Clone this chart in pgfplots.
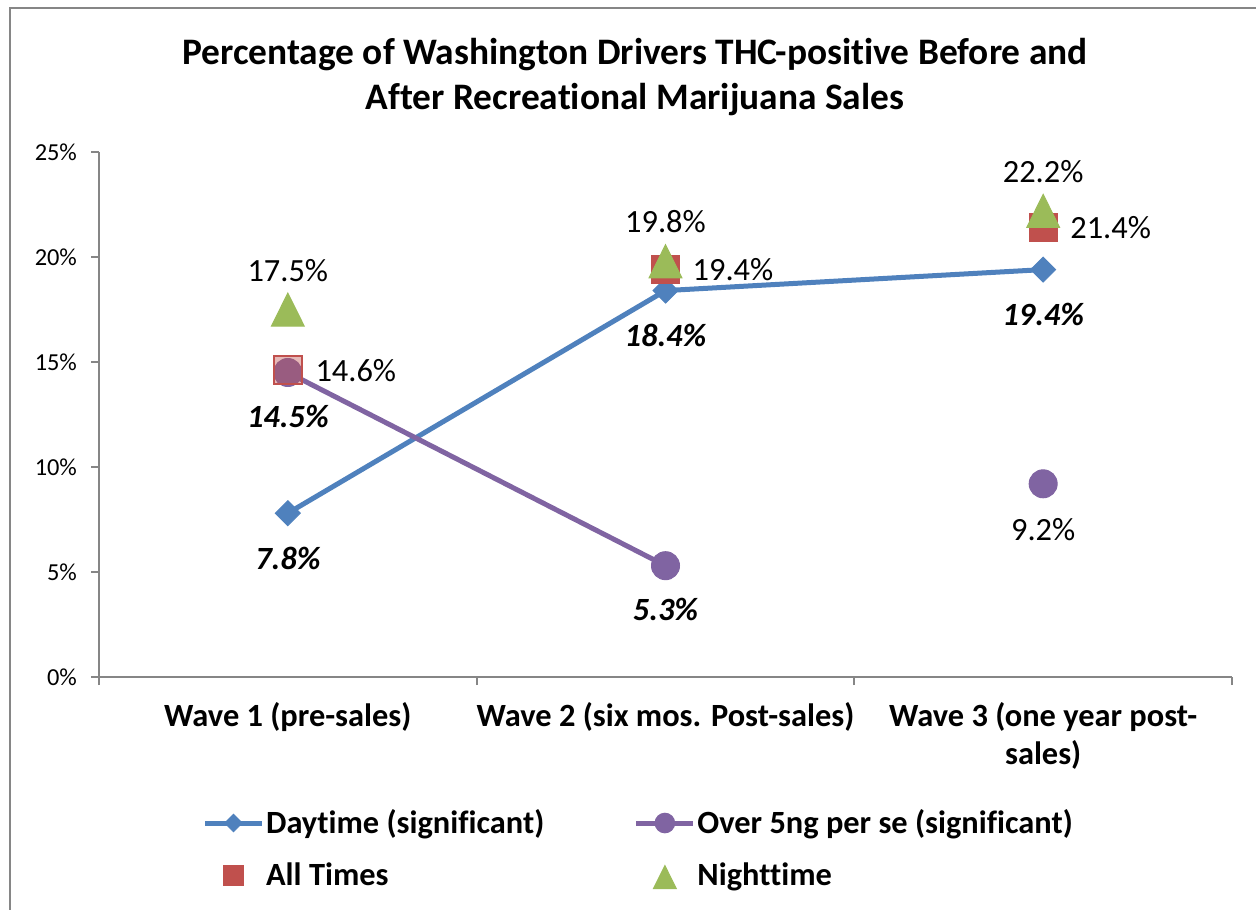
\documentclass[border=0pt]{standalone}
\usepackage{fontspec}
\setmainfont{Carlito}[Ligatures=NoCommon]
\usepackage{pgfplots}
\pgfplotsset{compat=1.18}
\definecolor{cblue}{HTML}{4F81BD}
\definecolor{cpurple}{HTML}{8064A2}
\definecolor{cred}{HTML}{C0504D}
\definecolor{cgreen}{HTML}{9BBB59}
\definecolor{framegray}{HTML}{868686}
\begin{document}
\begin{tikzpicture}
\useasboundingbox (0,0) rectangle (628pt,454.5pt);
\clip (0,0) rectangle (628pt,454.5pt);
\draw[framegray, line width=1pt] (5pt,-20pt) rectangle (660pt,450.5pt);
\node[font=\fontsize{18.7}{22.5}\selectfont\bfseries, align=center] at (317.5pt,416pt)
  {Percentage of Washington Drivers THC-positive Before and\\After Recreational Marijuana Sales};
\begin{axis}[
  at={(49.5pt,116pt)}, anchor=south west,
  scale only axis, width=566.5pt, height=262.5pt,
  xmin=-0.5, xmax=2.5, ymin=0, ymax=25,
  axis x line*=bottom, axis y line*=left,
  axis line style={framegray, line width=1pt, -},
  ytick={0,5,10,15,20,25},
  yticklabels={0\%,5\%,10\%,15\%,20\%,25\%},
  yticklabel style={font=\fontsize{12.2}{14}\selectfont, xshift=-3.5pt},
  xtick={0,1,2},
  xticklabels={Wave 1 (pre-sales), Wave 2 (six mos. Post-sales), {Wave 3 (one year post-\\sales)}},
  xticklabel style={font=\fontsize{16.2}{19}\selectfont\bfseries, align=center, yshift=-5pt},
  x tick style={draw=none},
  minor xtick={-0.5,0.5,1.5,2.5},
  tick align=outside,
  major tick length=4pt, minor tick length=4pt,
  y tick style={framegray, line width=1pt},
  minor x tick style={framegray, line width=1pt, draw=framegray},
  clip=false,
  point meta=explicit symbolic,
  every node near coord/.append style={text=black, text opacity=1, fill opacity=1, anchor=center, font=\fontsize{16.2}{19}\selectfont},
  legend columns=2,
  legend cell align=left,
  legend style={at={(0.091,-0.244)}, anchor=north west, draw=none, fill=none, inner sep=0pt,
    row sep=9pt, font=\fontsize{16.2}{19}\selectfont\bfseries,
    nodes={inner xsep=0.8pt},
    /tikz/column 2/.style={column sep=44pt}},
  legend image code/.code={\draw[#1, mark repeat=2, mark phase=2, every mark/.append style={scale=0.7}]
     plot coordinates {(0pt,0pt) (14.25pt,0pt) (28.5pt,0pt)};},
]
% Daytime (significant)
\addplot[cblue, line width=2.5pt, mark=square*, mark size=4.4pt,
  mark options={rotate=45, fill=cblue, draw=cblue, line width=0.5pt},
  nodes near coords, every node near coord/.append style={yshift=-22.5pt, font=\fontsize{16.2}{19}\selectfont\bfseries\itshape}]
  coordinates {(0,7.8) [7.8\%] (1,18.4) [18.4\%] (2,19.4) [19.4\%]};
\addlegendentry{Daytime (significant)}
% Over 5ng per se (significant)
\addplot[cpurple, line width=2.5pt, mark=*, mark size=7pt,
  mark options={fill=cpurple, draw=cpurple, line width=0.5pt},
  nodes near coords, every node near coord/.append style={yshift=-22pt, font=\fontsize{16.2}{19}\selectfont\bfseries\itshape}]
  coordinates {(0,14.5) [14.5\%] (1,5.3) [5.3\%]};
\addlegendentry{Over 5ng per se (significant)}
% All Times
\addplot[only marks, mark=square*, mark size=7pt,
  mark options={fill=cred, draw=cred, line width=0.5pt},
  nodes near coords, every node near coord/.append style={anchor=west, xshift=10pt}]
  coordinates {(1,19.4) [19.4\%] (2,21.4) [21.4\%]};
\addlegendentry{All Times}
% Nighttime
\addplot[only marks, mark=triangle*, mark size=11pt,
  mark options={fill=cgreen, draw=cgreen, line width=0.5pt, xscale=0.86, yshift=-2.8pt},
  nodes near coords, every node near coord/.append style={yshift=22.5pt}]
  coordinates {(0,17.5) [17.5\%] (1,19.8) [19.8\%] (2,22.2) [22.2\%]};
\addlegendentry{Nighttime}
% All Times, wave 1 (drawn over the circle)
\addplot[forget plot, only marks, mark=square*, mark size=7pt,
  mark options={fill=cred, fill opacity=0.4, draw=cred, line width=1pt},
  nodes near coords, every node near coord/.append style={anchor=west, xshift=10pt}]
  coordinates {(0,14.6) [14.6\%]};
% Over 5ng, wave 3 (not connected)
\addplot[forget plot, only marks, mark=*, mark size=7pt,
  mark options={fill=cpurple, draw=cpurple, line width=0.5pt},
  nodes near coords, every node near coord/.append style={yshift=-23pt}]
  coordinates {(2,9.2) [9.2\%]};
\end{axis}
\end{tikzpicture}
\end{document}
